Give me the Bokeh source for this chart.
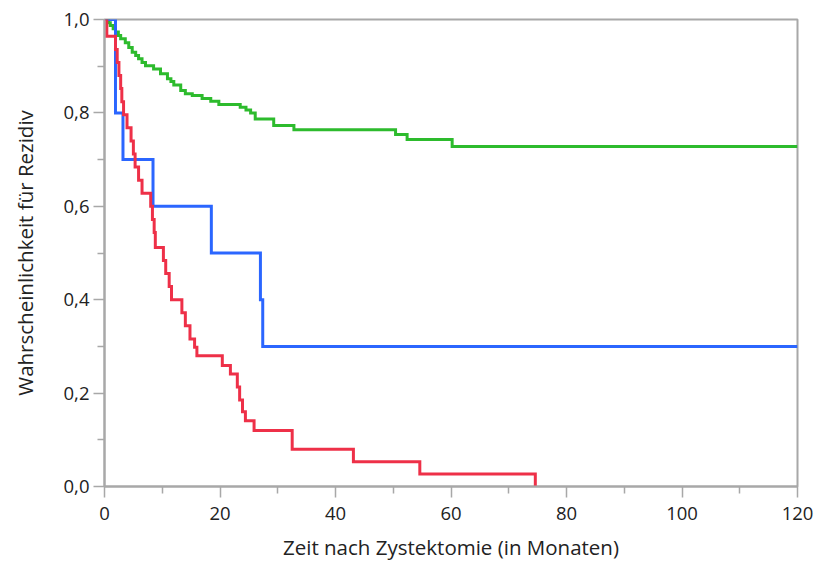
from bokeh.plotting import figure
from bokeh.models import FixedTicker, CustomJSTickFormatter, Range1d
from bokeh.embed import file_html
from bokeh.resources import INLINE

# Kaplan-Meier step curves: event times (months) and survival after each step
green_t = [0, 0.7, 1.0, 1.5, 1.9, 2.4, 2.8, 3.6, 4.2, 4.8, 5.4, 5.9, 6.5, 7.1, 8.5, 9.7,
           10.9, 11.5, 12.0, 13.2, 14.0, 15.2, 16.9, 18.4, 19.8, 23.5, 24.5, 25.3, 26.1,
           29.3, 32.8, 50.4, 52.4, 60.2]
green_s = [1.0, 0.993, 0.987, 0.980, 0.973, 0.966, 0.959, 0.950, 0.940, 0.930, 0.923, 0.916,
           0.908, 0.901, 0.894, 0.884, 0.873, 0.867, 0.860, 0.848, 0.841, 0.837, 0.831, 0.825,
           0.818, 0.812, 0.806, 0.800, 0.787, 0.773, 0.764, 0.754, 0.743, 0.728]

blue_t = [0, 1.9, 3.2, 8.4, 18.5, 27.0, 27.4]
blue_s = [1.0, 0.8, 0.7, 0.6, 0.5, 0.4, 0.3]

red_t = [0, 0.4, 1.9, 2.2, 2.5, 2.8, 3.0, 3.3, 3.9, 4.6, 5.0, 5.3, 5.9, 6.5, 8.0, 8.3, 8.6,
         8.8, 10.2, 10.6, 11.2, 11.6, 13.4, 14.0, 14.8, 15.6, 16.0, 20.4, 21.8, 23.0, 23.4,
         23.9, 24.4, 25.9, 32.5, 43.1, 54.6, 74.6]
red_s = [1.0, 0.964, 0.936, 0.908, 0.880, 0.852, 0.824, 0.796, 0.768, 0.740, 0.712, 0.684,
         0.656, 0.628, 0.600, 0.572, 0.544, 0.512, 0.484, 0.456, 0.428, 0.400, 0.372, 0.344,
         0.316, 0.298, 0.280, 0.259, 0.241, 0.213, 0.185, 0.160, 0.141, 0.120, 0.080, 0.053,
         0.027, 0.0]

follow_up_end = 120

x_ticks = [0, 20, 40, 60, 80, 100, 120]
x_minor = [10, 30, 50, 70, 90, 110]
y_ticks = [0.0, 0.2, 0.4, 0.6, 0.8, 1.0]
y_minor = [0.1, 0.3, 0.5, 0.7, 0.9]

AXIS_GRAY = "#A8A8A8"
TEXT = "#222222"
FONT = "Open Sans"

p = figure(width=818, height=565, output_backend="svg", toolbar_location=None,
           x_range=Range1d(0, 120), y_range=Range1d(0, 1.0),
           min_border_left=104, min_border_right=21, min_border_top=19, min_border_bottom=79)

p.xgrid.visible = False
p.ygrid.visible = False
p.background_fill_color = "white"
p.border_fill_color = "white"
p.outline_line_color = AXIS_GRAY
p.outline_line_width = 2

line_kw = dict(line_width=3, mode="after", line_join="miter")
p.step(green_t + [follow_up_end], green_s + [green_s[-1]], line_color="#2DBB2D", **line_kw)
p.step(blue_t + [follow_up_end], blue_s + [blue_s[-1]], line_color="#2B66FF", **line_kw)
p.step(red_t, red_s, line_color="#EE3048", **line_kw)

p.xaxis.ticker = FixedTicker(ticks=x_ticks, minor_ticks=x_minor)
p.yaxis.ticker = FixedTicker(ticks=y_ticks, minor_ticks=y_minor)
p.yaxis.formatter = CustomJSTickFormatter(code="return tick.toFixed(1).replace('.', ',');")

for ax in (p.xaxis[0], p.yaxis[0]):
    ax.axis_line_color = AXIS_GRAY
    ax.axis_line_width = 2
    ax.major_tick_line_color = AXIS_GRAY
    ax.minor_tick_line_color = AXIS_GRAY
    ax.major_tick_line_width = 1.5
    ax.minor_tick_line_width = 1.5
    ax.major_tick_out = 11
    ax.major_tick_in = 0
    ax.minor_tick_out = 7
    ax.minor_tick_in = 0
    ax.major_label_text_font = FONT
    ax.major_label_text_font_size = "18.5px"
    ax.major_label_text_color = TEXT
    ax.axis_label_text_font = FONT
    ax.axis_label_text_font_size = "20.5px"
    ax.axis_label_text_color = TEXT
    ax.axis_label_text_font_style = "normal"

p.xaxis.axis_label = "Zeit nach Zystektomie (in Monaten)"
p.yaxis.axis_label = "Wahrscheinlichkeit für Rezidiv"
p.xaxis.major_label_standoff = 9
p.yaxis.major_label_standoff = 4
p.xaxis.axis_label_standoff = 10
p.yaxis.axis_label_standoff = 22

open("out.html", "w").write(file_html(p, INLINE))
